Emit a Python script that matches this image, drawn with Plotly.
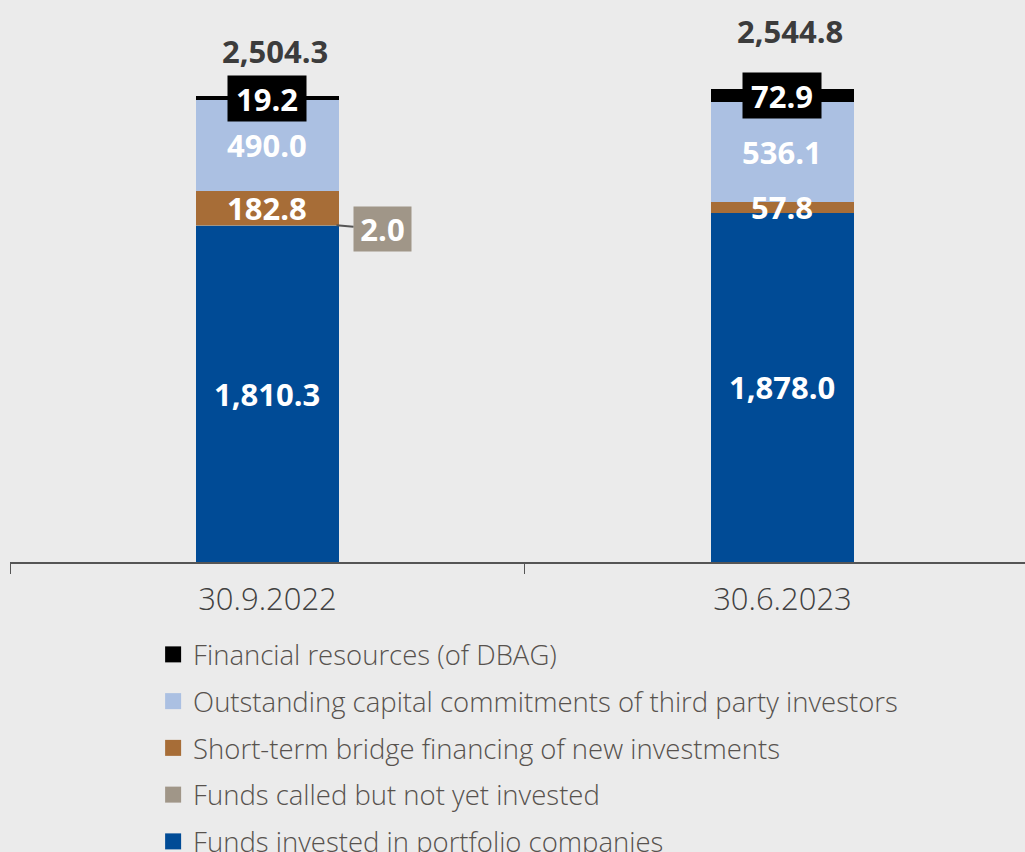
import plotly.graph_objects as go

categories = ["30.9.2022", "30.6.2023"]
series_names = [
    "Funds invested in portfolio companies",
    "Funds called but not yet invested",
    "Short-term bridge financing of new investments",
    "Outstanding capital commitments of third party investors",
    "Financial resources (of DBAG)",
]
funds_invested = [1810.3, 1878.0]
funds_called = [2.0, 0.0]
bridge_financing = [182.8, 57.8]
outstanding_commitments = [490.0, 536.1]
financial_resources = [19.2, 72.9]
totals = [2504.3, 2544.8]

colors = ["#004b96", "#a09688", "#a76d37", "#abc0e2", "#000000"]
series = [funds_invested, funds_called, bridge_financing, outstanding_commitments, financial_resources]

BG = "#ebebeb"
FONT = "Open Sans"
BAR_W = 0.278
LBL = dict(family=FONT, size=31, color="white", weight="bold")

fig = go.Figure()
for name, vals, col in zip(series_names, series, colors):
    fig.add_trace(go.Bar(x=categories, y=vals, name=name, marker=dict(color=col, line=dict(width=0)),
                         width=BAR_W, showlegend=False, hoverinfo="skip"))

# legend entries (top to bottom as in the reference)
for i, (name, col) in enumerate(reversed(list(zip(series_names, colors)))):
    fig.add_trace(go.Scatter(x=[None], y=[None], mode="markers", name=name,
                             marker=dict(symbol="square", size=16, color=col),
                             legendgroup=f"g{i}", showlegend=True))

annotations = []
for ci, cat in enumerate(categories):
    base = 0.0
    for si, vals in enumerate(series):
        v = vals[ci]
        mid = base + v / 2
        txt = f"{v:,.1f}"
        if si in (0, 2, 3):
            annotations.append(dict(x=ci, y=mid, text=txt, showarrow=False, font=LBL))
        elif si == 1 and v > 0:
            annotations.append(dict(x=ci + BAR_W / 2 - 0.005, y=mid, text=txt, showarrow=True,
                                    arrowhead=0, arrowwidth=2, arrowcolor="#555555",
                                    ax=46, ay=4, bgcolor=colors[1], borderpad=3,
                                    width=51, height=38, font=LBL))
        elif si == 4:
            annotations.append(dict(x=ci, y=mid, text=txt, showarrow=False,
                                    bgcolor="#000000", borderpad=3, width=72, height=39,
                                    font=LBL))
        base += v

total_shift = [22, 35]
for ci, t in enumerate(totals):
    annotations.append(dict(x=ci, y=t, text=f"{t:,.1f}", showarrow=False, yanchor="bottom",
                            yshift=total_shift[ci], xshift=8,
                            font=dict(family=FONT, size=31, color="#3c3c3c", weight="bold")))

fig.update_layout(
    width=1025, height=852,
    paper_bgcolor=BG, plot_bgcolor=BG,
    margin=dict(l=10, r=0, t=0, b=290, autoexpand=False),
    barmode="stack",
    bargap=0,
    annotations=annotations,
    showlegend=True,
    legend=dict(x=0.141, y=-0.121, xanchor="left", yanchor="top", orientation="v",
                traceorder="grouped", tracegroupgap=8, bgcolor="rgba(0,0,0,0)",
                font=dict(family=FONT, size=27.5, color="#57524e", weight=300)),
    font=dict(family=FONT),
)
fig.update_xaxes(type="category", range=[-0.5, 1.471], showline=True, linecolor="#555555", linewidth=2,
                 ticks="outside", tickson="boundaries", ticklen=10, tickcolor="#555555", tickwidth=1,
                 ticklabelstandoff=9,
                 showgrid=False, zeroline=False,
                 tickfont=dict(family=FONT, size=31, color="#404040", weight=300))
fig.update_yaxes(range=[0, 3022.5], showticklabels=False, showgrid=False, zeroline=False, showline=False)

fig.write_html("out.html", config={"displayModeBar": False},
               post_script="document.body.style.margin='0';")
